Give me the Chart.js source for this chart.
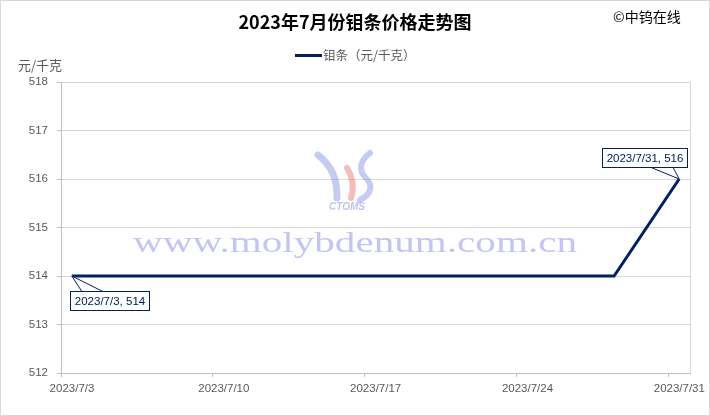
<!DOCTYPE html>
<html>
<head>
<meta charset="utf-8">
<script src="https://cdn.jsdelivr.net/npm/chart.js@4/dist/chart.umd.min.js"></script>
<style>
  html, body { margin: 0; padding: 0; background: #fff; }
  #wrap { width: 710px; height: 416px; position: relative; }
</style>
</head>
<body>
<div id="wrap"><canvas id="priceChart"></canvas></div>
<script>
// 数据
const dates = [
    '2023/7/3', '2023/7/4', '2023/7/5', '2023/7/6', '2023/7/7',
    '2023/7/10', '2023/7/11', '2023/7/12', '2023/7/13', '2023/7/14',
    '2023/7/17', '2023/7/18', '2023/7/19', '2023/7/20', '2023/7/21',
    '2023/7/24', '2023/7/25', '2023/7/26', '2023/7/27', '2023/7/28',
    '2023/7/31'
];
const prices = [
    514, 514, 514, 514, 514,
    514, 514, 514, 514, 514,
    514, 514, 514, 514, 514,
    514, 514, 514, 514, 514,
    516
];
const tickLabels = ['2023/7/3', '2023/7/10', '2023/7/17', '2023/7/24', '2023/7/31'];
const yTicks = [512, 513, 514, 515, 516, 517, 518];

const seriesName = '钼条（元/千克）';
const lineColor = '#002060';
const gridColor = '#d9d9d9';
const textColor = '#595959';
const cjk = '"Noto Sans CJK SC", "Noto Sans", sans-serif';
const numFont = '"Liberation Sans", "Noto Sans", sans-serif';

// 日期 -> 日（柱间居中 +0.5）
const dayOf = d => Number(d.split('/')[2]);
const points = dates.map((d, i) => ({ x: dayOf(d) + 0.5, y: prices[i] }));

// 标题、图例、水印、数据标签
const decorPlugin = {
    id: 'decor',
    beforeDatasetsDraw(chart) {
        const ctx = chart.ctx;
        const area = chart.chartArea;
        ctx.save();

        // 水印 logo
        ctx.globalAlpha = 0.45;
        ctx.lineCap = 'round';
        ctx.strokeStyle = '#7f8ee0';
        ctx.lineWidth = 7;
        ctx.beginPath();
        ctx.moveTo(318, 155);
        ctx.quadraticCurveTo(338, 170, 337, 198);
        ctx.stroke();
        ctx.strokeStyle = '#e86a6a';
        ctx.lineWidth = 6;
        ctx.beginPath();
        ctx.moveTo(347, 168);
        ctx.quadraticCurveTo(356, 182, 351, 198);
        ctx.stroke();
        ctx.strokeStyle = '#7f8ee0';
        ctx.lineWidth = 6;
        ctx.beginPath();
        ctx.moveTo(370, 153);
        ctx.quadraticCurveTo(355, 165, 365, 177);
        ctx.quadraticCurveTo(378, 190, 360, 200);
        ctx.stroke();
        ctx.globalAlpha = 0.6;
        ctx.fillStyle = '#8e9ce6';
        ctx.font = 'italic bold 10px ' + numFont;
        ctx.textAlign = 'center';
        ctx.textBaseline = 'middle';
        ctx.fillText('CTOMS', 347, 207);

        // 水印文字
        ctx.globalAlpha = 1;
        ctx.fillStyle = '#c5c5f3';
        ctx.font = '30px "Liberation Serif", "DejaVu Serif", serif';
        ctx.textAlign = 'left';
        ctx.textBaseline = 'alphabetic';
        const wm = 'www.molybdenum.com.cn';
        const w = ctx.measureText(wm).width;
        ctx.translate(133, 252);
        ctx.scale(444 / w, 1);
        ctx.fillText(wm, 0, 0);
        ctx.restore();

        // 绘图区右边框
        ctx.save();
        ctx.strokeStyle = gridColor;
        ctx.lineWidth = 1;
        ctx.beginPath();
        ctx.moveTo(Math.round(area.right) + 0.5, area.top);
        ctx.lineTo(Math.round(area.right) + 0.5, area.bottom);
        ctx.stroke();
        ctx.restore();
    },
    afterDraw(chart) {
        const ctx = chart.ctx;
        ctx.save();

        // 外框
        ctx.strokeStyle = gridColor;
        ctx.lineWidth = 1;
        ctx.strokeRect(0.5, 0.5, chart.width - 1, chart.height - 1);

        // 标题
        ctx.fillStyle = '#000';
        ctx.font = 'bold 18px ' + cjk;
        ctx.textAlign = 'center';
        ctx.textBaseline = 'middle';
        ctx.fillText('2023年7月份钼条价格走势图', 355, 22);

        ctx.font = '14px ' + cjk;
        ctx.textAlign = 'left';
        ctx.fillText('©中钨在线', 613, 17);

        // 图例
        ctx.fillStyle = lineColor;
        ctx.fillRect(295, 54, 27, 3);
        ctx.fillStyle = textColor;
        ctx.font = '12.5px ' + cjk;
        ctx.fillText(seriesName, 323, 55);

        // 单位
        ctx.font = '13px ' + cjk;
        ctx.fillText('元/千克', 18, 65);

        // 数据标签
        const meta = chart.getDatasetMeta(0).data;
        const first = meta[0];
        const last = meta[meta.length - 1];
        ctx.font = '11.5px ' + numFont;
        const drawCallout = (pt, text, bx, by, bw, bh, baseA, baseB, baseY) => {
            ctx.fillStyle = '#fff';
            ctx.strokeStyle = lineColor;
            ctx.lineWidth = 1;
            ctx.beginPath();
            ctx.moveTo(pt.x, pt.y);
            ctx.lineTo(baseA, baseY);
            ctx.lineTo(baseB, baseY);
            ctx.closePath();
            ctx.fill();
            ctx.stroke();
            ctx.fillRect(bx, by, bw, bh);
            ctx.strokeRect(bx + 0.5, by + 0.5, bw, bh);
            ctx.fillStyle = lineColor;
            ctx.textAlign = 'center';
            ctx.textBaseline = 'middle';
            ctx.fillText(text, bx + bw / 2 + 0.5, by + bh / 2 + 1);
        };
        drawCallout(first, dates[0] + ', ' + prices[0],
            70, 291, 79, 19, first.x + 10, first.x + 31, 291.5);
        drawCallout(last, dates[dates.length - 1] + ', ' + prices[prices.length - 1],
            602, 148, 85, 19, last.x - 28, last.x - 6, 167.5);

        ctx.restore();
    }
};

new Chart(document.getElementById('priceChart'), {
    type: 'line',
    data: {
        datasets: [{
            label: seriesName,
            data: points,
            borderColor: lineColor,
            backgroundColor: lineColor,
            borderWidth: 3,
            pointRadius: 0,
            tension: 0
        }]
    },
    options: {
        responsive: true,
        maintainAspectRatio: false,
        animation: false,
        devicePixelRatio: 1,
        layout: { padding: { top: 82, right: 20, left: 0, bottom: 0 } },
        plugins: {
            legend: { display: false },
            title: { display: false },
            tooltip: { enabled: false }
        },
        scales: {
            x: {
                type: 'linear',
                min: 3,
                max: 32,
                afterBuildTicks: scale => {
                    scale.ticks = tickLabels.map(t => ({ value: dayOf(t) }));
                },
                afterFit: scale => { scale.height = 43; },
                ticks: {
                    autoSkip: false,
                    maxRotation: 0,
                    padding: 5,
                    labelOffset: 11,
                    color: textColor,
                    font: { family: numFont, size: 11.5 },
                    callback: v => tickLabels.find(t => dayOf(t) === v) || ''
                },
                grid: {
                    drawOnChartArea: false,
                    drawTicks: true,
                    tickLength: 4,
                    color: '#bfbfbf'
                },
                border: { color: '#bfbfbf' }
            },
            y: {
                min: 512,
                max: 518,
                afterBuildTicks: scale => {
                    scale.ticks = yTicks.map(v => ({ value: v }));
                },
                afterFit: scale => { scale.width = 61; },
                ticks: {
                    padding: 9,
                    color: textColor,
                    font: { family: numFont, size: 11.5 }
                },
                grid: {
                    color: gridColor,
                    tickLength: 4,
                    tickColor: '#bfbfbf'
                },
                border: { color: '#bfbfbf' }
            }
        }
    },
    plugins: [decorPlugin]
});
</script>
</body>
</html>
